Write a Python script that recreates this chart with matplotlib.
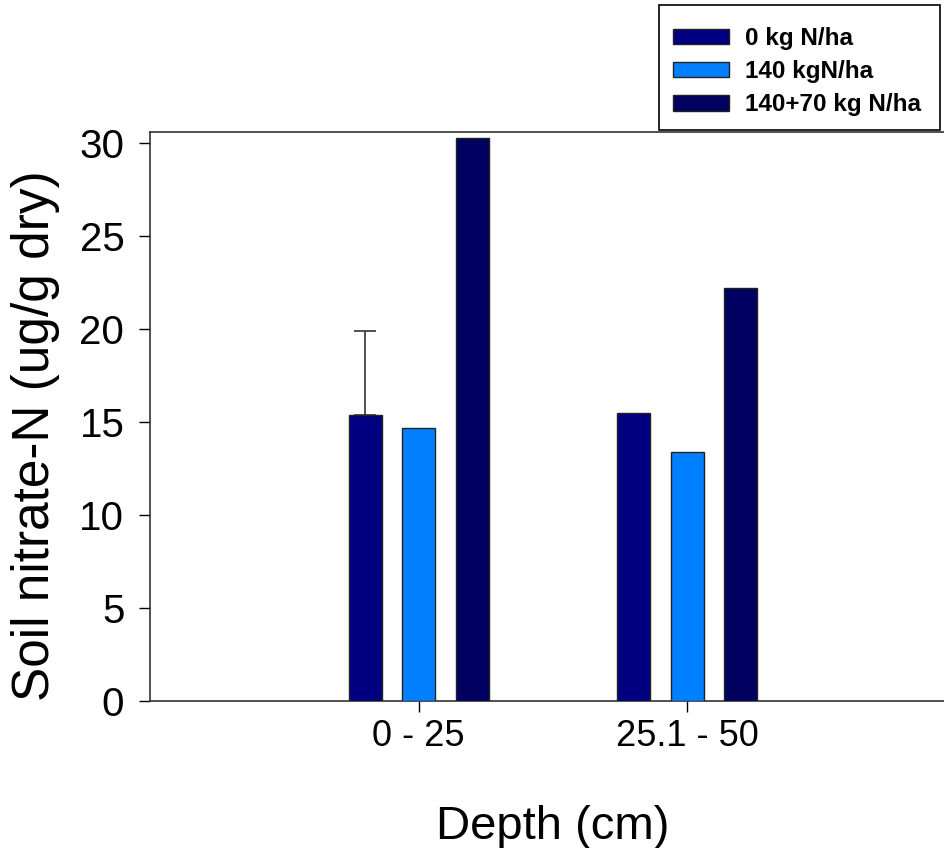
import matplotlib
matplotlib.use("Agg")
import matplotlib.pyplot as plt
from matplotlib.patches import Rectangle
import numpy as np

plt.rcParams['font.family'] = ['Liberation Sans', 'DejaVu Sans']

categories = ["0 - 25", "25.1 - 50"]
series_names = ["0 kg N/ha", "140 kgN/ha", "140+70 kg N/ha"]
values = {
    "0 kg N/ha": [15.4, 15.5],
    "140 kgN/ha": [14.7, 13.4],
    "140+70 kg N/ha": [30.3, 22.2],
}
errors = {
    "0 kg N/ha": [4.5, 0],
}
colors = ["#000080", "#0080FF", "#000060"]

fig = plt.figure(figsize=(9.45, 8.48), dpi=100)
W, H = 945, 848
left, right, bottom, top = 150, 956, 701, 132
ax = fig.add_axes([left / W, 1 - bottom / H, (right - left) / W, (bottom - top) / H])

x = np.arange(len(categories))
width = 0.123
offset = 0.199
handles = []
for i, name in enumerate(series_names):
    pos = x + (i - 1) * offset
    b = ax.bar(pos, values[name], width, color=colors[i], edgecolor="#222222", linewidth=1.0, zorder=3)
    handles.append(b)
    if name in errors:
        err = errors[name]
        for p, v, e in zip(pos, values[name], err):
            if e > 0:
                ax.errorbar(p, v, yerr=[[0], [e]], fmt='none', ecolor="#333333",
                            elinewidth=1.2, capsize=8, capthick=1.2, zorder=2)

ax.set_xlim(-1, 2)
ax.set_ylim(0, 30.6)
ax.set_yticks([0, 5, 10, 15, 20, 25, 30])
ax.set_xticks(x)
ax.set_xticklabels(categories)
ax.tick_params(axis='y', direction='out', length=8, width=1, labelsize=29, pad=10.5)
ax.tick_params(axis='x', direction='out', length=8, width=1, labelsize=26, pad=5)
for s in ['left', 'bottom', 'top']:
    ax.spines[s].set_color('#333333')
    ax.spines[s].set_linewidth(1.2)
ax.spines['right'].set_visible(False)

ax.set_ylabel("Soil nitrate-N (ug/g dry)", fontsize=37)
ax.yaxis.set_label_coords(-0.112, 0.466)
ax.set_xlabel("Depth (cm)", fontsize=34, labelpad=37)

leg = fig.legend(handles, series_names, loc='upper left',
                 bbox_to_anchor=(673 / W, 1 - 27 / H), prop={'weight': 'bold', 'size': 17.5},
                 frameon=False, handlelength=2.3,
                 handleheight=0.6, borderpad=0, labelspacing=0.42, handletextpad=0.65,
                 borderaxespad=0)
fig.patches.append(Rectangle((659 / W, 1 - 130 / H), 281 / W, 125 / H, transform=fig.transFigure,
                             fill=False, edgecolor='black', linewidth=1.2, zorder=5))

fig.savefig("out.png", dpi=100)
